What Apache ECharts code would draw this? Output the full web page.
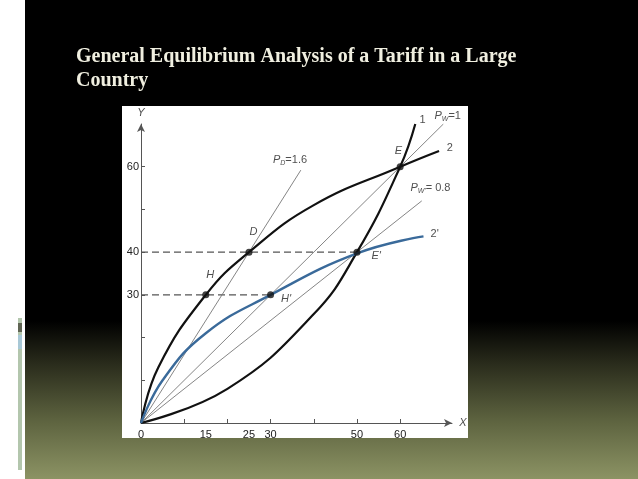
<!DOCTYPE html>
<html>
<head>
<meta charset="utf-8">
<script src="https://cdn.jsdelivr.net/npm/echarts@6/dist/echarts.min.js"></script>
<style>
  html, body { margin: 0; padding: 0; }
  body { width: 638px; height: 479px; position: relative; overflow: hidden;
    background: linear-gradient(to bottom, #000 0%, #000 67%, #2a2c1c 76%, #5e6440 88%, #8c9364 100%); }
  #strip { position: absolute; left: 0; top: 0; width: 25px; height: 479px; background: #fff; }
  #bar { position: absolute; left: 18px; top: 318px; width: 4px; height: 152px; background: #b3c6ad; }
  #bar2 { position: absolute; left: 18px; top: 323px; width: 4px; height: 9px; background: #5f6453; }
  #bar3 { position: absolute; left: 18px; top: 335px; width: 4px; height: 14px; background: #a8c8d6; }
  #chart { position: absolute; left: 0; top: 0; width: 638px; height: 479px; }
</style>
</head>
<body>
<div id="strip"></div><div id="bar"></div><div id="bar2"></div><div id="bar3"></div>
<div id="chart"></div>
<script>
// curves: [x, y]
const curve1 = [[0, 0], [20, 8], [40, 25.5], [50, 40], [60, 60], [63.5, 70]];
const curve2 = [[0, 0], [4, 13], [15, 30], [25, 40], [40, 51], [60, 60], [69, 63.7]];
const curve2p = [[0, 0], [5, 10], [15, 21], [30, 30], [50, 39.7], [65.4, 43.7]];
const rayPD = [[0, 0], [37, 59.2]];
const rayPW = [[0, 0], [70, 70]];
const rayPWp = [[0, 0], [65, 52]];
const dash40 = [[0, 40], [50, 40]];
const dash30 = [[0, 30], [30, 30]];
const points = [
  { name: 'H', value: [15, 30], pos: [-8, -20] },
  { name: 'D', value: [25, 40], pos: [-8, -20] },
  { name: "H'", value: [30, 30], pos: [2, 4] },
  { name: "E'", value: [50, 40], pos: [6, 4] },
  { name: 'E', value: [60, 60], pos: [-14, -16] }
];
const xLabels = [0, 15, 25, 30, 50, 60];
const xTicks = [10, 20, 30, 40, 50, 60];
const yLabels = [30, 40, 60];
const yTicks = [10, 20, 30, 40, 50, 60];

const chart = echarts.init(document.getElementById('chart'));
const font = 'Liberation Sans';
function line(data, color, width, type) {
  return { type: 'line', data, showSymbol: false, smooth: false, silent: true,
    lineStyle: { color, width, type: type || 'solid' }, z: 2 };
}
function curve(data, color, width) {
  const s = line(data, color, width);
  s.smooth = 0.45; s.z = 3;
  return s;
}
function tag(x, y, text) {
  return { value: [x, y], label: { show: true, formatter: text, position: 'inside' } };
}
chart.setOption({
  animation: false,
  title: {
    text: 'General Equilibrium Analysis of a Tariff in a Large\nCountry',
    left: 71, top: 40,
    textStyle: { color: '#f0efe0', fontFamily: 'Liberation Serif', fontSize: 20, fontWeight: 'bold', lineHeight: 24 }
  },
  graphic: [{ type: 'rect', shape: { x: 122, y: 106, width: 346, height: 332 }, style: { fill: '#fff' }, z: -10 }],
  grid: { left: 141, right: 186, top: 124, bottom: 56 },
  xAxis: {
    type: 'value', min: 0, max: 72, interval: 5, splitLine: { show: false },
    axisLine: { lineStyle: { color: '#555' }, symbol: ['none', 'arrow'], symbolSize: [6, 8] },
    axisTick: { customValues: xTicks, length: 4, inside: true, lineStyle: { color: '#555' } },
    axisLabel: { customValues: xLabels, color: '#222', fontFamily: font, fontSize: 11, margin: 6 }
  },
  yAxis: {
    type: 'value', min: 0, max: 70, interval: 5, splitLine: { show: false },
    axisLine: { lineStyle: { color: '#555' }, symbol: ['none', 'arrow'], symbolSize: [6, 8] },
    axisTick: { customValues: yTicks, length: 4, inside: true, lineStyle: { color: '#555' } },
    axisLabel: { customValues: yLabels, color: '#222', fontFamily: font, fontSize: 11, margin: 2 }
  },
  series: [
    line(dash40, '#555', 1.2, [7, 4]),
    line(dash30, '#555', 1.2, [7, 4]),
    line(rayPD, '#777', 0.9),
    line(rayPW, '#777', 0.9),
    line(rayPWp, '#777', 0.9),
    curve(curve1, '#111', 2.2),
    curve(curve2, '#111', 2.2),
    curve(curve2p, '#3a6a9a', 2.4),
    {
      type: 'scatter', symbolSize: 7, itemStyle: { color: '#111' }, z: 5,
      data: points.map(p => ({ value: p.value, label: { offset: p.pos } })),
      label: { show: true, position: 'right', fontStyle: 'italic', color: '#222', fontFamily: font, fontSize: 11,
        formatter: p => points[p.dataIndex].name }
    },
    {
      type: 'scatter', symbolSize: 0, z: 6, silent: true, clip: false,
      label: { color: '#222', fontFamily: font, fontSize: 11,
        rich: { i: { fontStyle: 'italic', fontSize: 11, color: '#222' }, s: { fontStyle: 'italic', fontSize: 7, color: '#222', padding: [5, 0, 0, 0] } } },
      data: [
        tag(65.2, 71, '1'),
        tag(71.5, 64.5, '2'),
        tag(68, 44.3, "2'"),
        tag(34.5, 61.5, '{i|P}{s|D}=1.6'),
        tag(71, 71.8, '{i|P}{s|W}=1'),
        tag(67, 55, "{i|P}{s|W'}= 0.8"),
        tag(0, 72.5, '{i|Y}'),
        tag(74.5, 0, '{i|X}')
      ]
    }
  ]
});
</script>
</body>
</html>
